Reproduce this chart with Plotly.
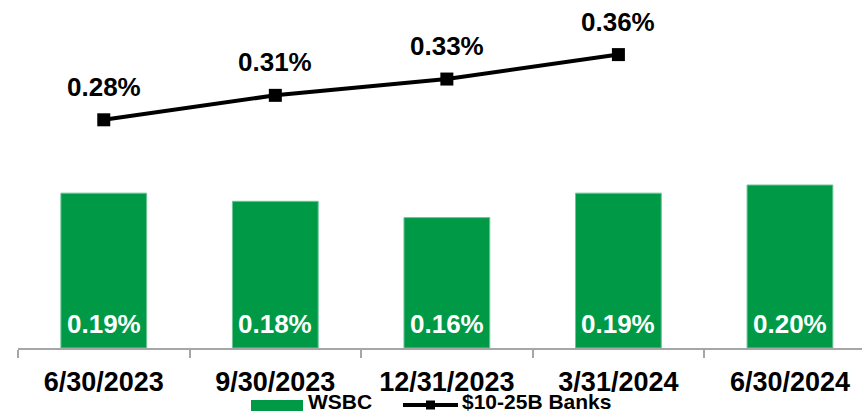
import plotly.graph_objects as go

categories = ["6/30/2023", "9/30/2023", "12/31/2023", "3/31/2024", "6/30/2024"]
wsbc = [0.19, 0.18, 0.16, 0.19, 0.20]
peer_cats = ["6/30/2023", "9/30/2023", "12/31/2023", "3/31/2024"]
peer = [0.28, 0.31, 0.33, 0.36]
series_names = ["WSBC", "$10-25B Banks"]

FONT = "Arial, 'Liberation Sans', sans-serif"
GREEN = "#009A47"

W, H = 862, 414
ML, MB = 18, 66
PW, PH = W - ML, H - MB


def px_x(px):
    return (px - ML) / PW


def px_y(py):
    return (PH - py) / PH


fig = go.Figure()
fig.add_trace(go.Bar(
    x=categories, y=wsbc, name=series_names[0],
    marker=dict(color=GREEN, line=dict(color="#6cc497", width=1)),
))
fig.add_trace(go.Scatter(
    x=peer_cats, y=peer, name=series_names[1], mode="lines+markers",
    line=dict(color="black", width=4),
    marker=dict(symbol="square", size=13, color="black"),
))

annotations = []
for c, v in zip(categories, wsbc):
    annotations.append(dict(
        x=c, y=0, xref="x", yref="y", text=f"{v:.2f}%", showarrow=False,
        yanchor="bottom", yshift=7,
        font=dict(family=FONT, size=26, color="white", weight="bold"),
    ))
for c, v in zip(peer_cats, peer):
    annotations.append(dict(
        x=c, y=v, xref="x", yref="y", text=f"{v:.2f}%", showarrow=False,
        yanchor="bottom", yshift=16,
        font=dict(family=FONT, size=26, color="black", weight="bold"),
    ))

# custom legend (swatches + real text)
LEG_Y = 405
TXT_Y = 401
shapes = [
    dict(type="rect", xref="paper", yref="paper",
         x0=px_x(251), x1=px_x(303), y0=px_y(411), y1=px_y(400),
         fillcolor=GREEN, line=dict(width=0)),
    dict(type="line", xref="paper", yref="paper",
         x0=px_x(403), x1=px_x(458), y0=px_y(LEG_Y), y1=px_y(LEG_Y),
         line=dict(color="black", width=4)),
    dict(type="rect", xref="paper", yref="paper",
         x0=px_x(426), x1=px_x(435), y0=px_y(LEG_Y + 4.5), y1=px_y(LEG_Y - 4.5),
         fillcolor="black", line=dict(width=0)),
]
annotations.append(dict(
    x=px_x(307), y=px_y(TXT_Y), xref="paper", yref="paper", text=series_names[0],
    showarrow=False, xanchor="left", yanchor="middle", borderpad=0,
    font=dict(family=FONT, size=21, color="black", weight="bold"),
))
annotations.append(dict(
    x=px_x(461), y=px_y(TXT_Y), xref="paper", yref="paper", text=series_names[1],
    showarrow=False, xanchor="left", yanchor="middle", borderpad=0,
    font=dict(family=FONT, size=21, color="black", weight="bold"),
))

fig.update_layout(
    width=W, height=H,
    margin=dict(l=ML, r=0, t=0, b=MB, autoexpand=False),
    paper_bgcolor="white", plot_bgcolor="white",
    bargap=0.5,
    showlegend=False,
    annotations=annotations,
    shapes=shapes,
    xaxis=dict(
        type="category", categoryorder="array", categoryarray=categories,
        range=[-0.5, 4.42],
        showline=True, linecolor="#A6A6A6", linewidth=1.5,
        ticks="outside", tickson="boundaries", ticklen=8, tickcolor="#A6A6A6", tickwidth=1.5,
        tickfont=dict(family=FONT, size=27, color="black", weight="bold"),
        ticklabelstandoff=9,
        showgrid=False, zeroline=False, fixedrange=True,
    ),
    yaxis=dict(
        range=[0, 0.427], visible=False, showgrid=False, zeroline=False, fixedrange=True,
    ),
)

fig.write_html("out.html")
